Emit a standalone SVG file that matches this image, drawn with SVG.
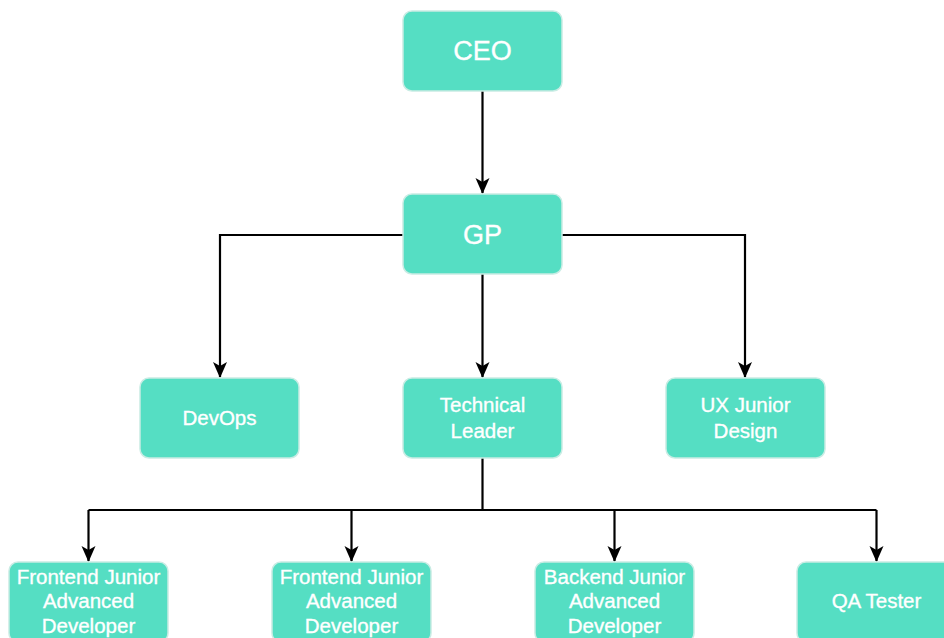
<svg xmlns="http://www.w3.org/2000/svg" width="944" height="638" viewBox="0 0 944 638">
  <style>
    .box { fill: #55dec3; stroke: #c9ece4; stroke-width: 1.5; }
    .lbl { fill: #ffffff; stroke: #ffffff; stroke-width: 0.35; font-family: "Liberation Sans", Arial, sans-serif; font-size: 20.5px; text-anchor: middle; }
    .big { font-size: 27px; }
    .edge { fill: none; stroke: #000000; stroke-width: 2.2; }
  </style>
  <defs>
    <!-- classic notched arrowhead, tip at the path end -->
    <marker id="arrow" viewBox="0 0 16 16" refX="15" refY="8" markerWidth="16" markerHeight="16" markerUnits="userSpaceOnUse" orient="auto">
      <path d="M0,1 L16,8 L0,15 L4,8 Z" fill="#000000"/>
    </marker>
  </defs>
  <rect width="944" height="638" fill="#ffffff"/>

  <g id="connectors">
    <path class="edge" d="M482.5,91 V193" marker-end="url(#arrow)"/>
    <path class="edge" d="M403,235 H220 V377" marker-end="url(#arrow)"/>
    <path class="edge" d="M482.5,274 V377" marker-end="url(#arrow)"/>
    <path class="edge" d="M562,235 H745 V377" marker-end="url(#arrow)"/>
    <path class="edge" d="M482.5,458 V510"/>
    <path class="edge" d="M88.5,510 H876.5"/>
    <path class="edge" d="M88.5,510 V561" marker-end="url(#arrow)"/>
    <path class="edge" d="M351.5,510 V561" marker-end="url(#arrow)"/>
    <path class="edge" d="M614.5,510 V561" marker-end="url(#arrow)"/>
    <path class="edge" d="M876.5,510 V561" marker-end="url(#arrow)"/>
  </g>

  <g id="ceo">
    <rect class="box" x="403" y="11" width="159" height="80" rx="9"/>
    <text class="lbl big" x="482.5" y="60">CEO</text>
  </g>
  <g id="gp">
    <rect class="box" x="403" y="194" width="159" height="80" rx="9"/>
    <text class="lbl big" x="482.5" y="244">GP</text>
  </g>
  <g id="devops">
    <rect class="box" x="140" y="378" width="159" height="80" rx="9"/>
    <text class="lbl" x="219.5" y="425">DevOps</text>
  </g>
  <g id="technical-leader">
    <rect class="box" x="403" y="378" width="159" height="80" rx="9"/>
    <text class="lbl" x="482.5" y="412">Technical</text>
    <text class="lbl" x="482.5" y="438">Leader</text>
  </g>
  <g id="ux-junior-design">
    <rect class="box" x="666" y="378" width="159" height="80" rx="9"/>
    <text class="lbl" x="745.5" y="412">UX Junior</text>
    <text class="lbl" x="745.5" y="438">Design</text>
  </g>
  <g id="frontend-1">
    <rect class="box" x="9" y="562" width="159" height="80" rx="9"/>
    <text class="lbl" x="88.5" y="584">Frontend Junior</text>
    <text class="lbl" x="88.5" y="608">Advanced</text>
    <text class="lbl" x="88.5" y="633">Developer</text>
  </g>
  <g id="frontend-2">
    <rect class="box" x="272" y="562" width="159" height="80" rx="9"/>
    <text class="lbl" x="351.5" y="584">Frontend Junior</text>
    <text class="lbl" x="351.5" y="608">Advanced</text>
    <text class="lbl" x="351.5" y="633">Developer</text>
  </g>
  <g id="backend">
    <rect class="box" x="535" y="562" width="159" height="80" rx="9"/>
    <text class="lbl" x="614.5" y="584">Backend Junior</text>
    <text class="lbl" x="614.5" y="608">Advanced</text>
    <text class="lbl" x="614.5" y="633">Developer</text>
  </g>
  <g id="qa-tester">
    <rect class="box" x="797" y="562" width="159" height="80" rx="9"/>
    <text class="lbl" x="876.5" y="608">QA Tester</text>
  </g>
</svg>
